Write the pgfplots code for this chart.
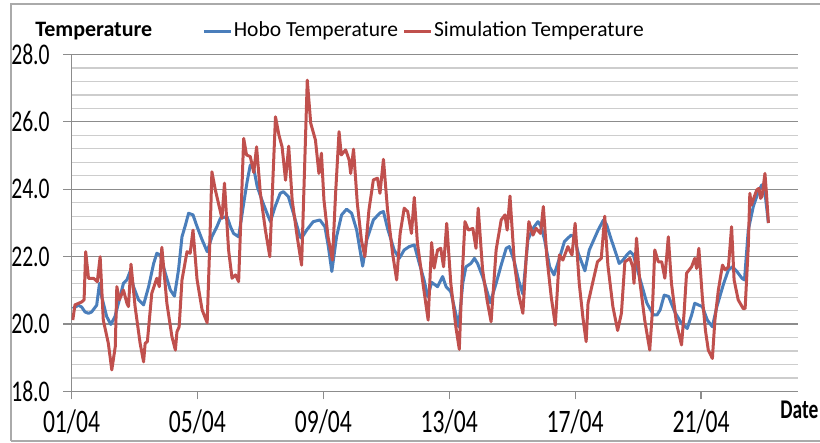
\documentclass[border=0pt]{standalone}
\usepackage{fontspec}
\setmainfont{Carlito}
\newfontfamily\tickfont{Carlito}[FakeStretch=0.72]
\usepackage{pgfplots}
\pgfplotsset{compat=1.18}
\newlength{\px}\setlength{\px}{0.5pt}
\definecolor{hobo}{RGB}{74,126,187}
\definecolor{sim}{RGB}{192,80,77}
\definecolor{majgrid}{RGB}{140,140,140}
\definecolor{mingrid}{RGB}{205,205,205}
\definecolor{framec}{RGB}{170,170,170}

\pgfplotstableread{
d t
0.04 20.46
0.22 20.56
0.32 20.51
0.43 20.36
0.54 20.32
0.64 20.36
0.80 20.56
0.89 21.21
0.96 20.81
1.12 20.22
1.25 19.99
1.38 20.22
1.52 20.72
1.65 21.21
1.76 21.31
1.86 21.56
1.97 21.11
2.13 20.72
2.29 20.57
2.45 21.11
2.61 21.80
2.71 22.10
2.82 22.05
2.98 21.51
3.14 21.01
3.27 20.83
3.40 21.61
3.51 22.59
3.62 22.94
3.72 23.29
3.86 23.24
3.99 22.89
4.15 22.50
4.31 22.15
4.46 22.59
4.62 22.89
4.73 23.14
4.94 23.19
5.05 22.89
5.15 22.69
5.31 22.59
5.47 23.58
5.58 24.23
5.68 24.72
5.79 24.62
5.90 24.08
6.05 23.68
6.21 23.29
6.32 23.04
6.47 23.49
6.63 23.88
6.73 23.93
6.89 23.78
7.05 23.29
7.26 22.59
7.31 22.55
7.47 22.79
7.68 23.04
7.89 23.09
8.05 22.89
8.16 22.30
8.27 21.56
8.42 22.59
8.58 23.24
8.74 23.41
8.90 23.29
9.06 22.79
9.25 21.72
9.38 22.50
9.59 23.09
9.80 23.30
9.91 23.34
10.04 22.84
10.25 22.20
10.41 21.95
10.57 22.20
10.73 22.30
10.89 22.35
11.05 21.80
11.20 21.31
11.32 20.81
11.44 21.24
11.63 21.11
11.79 21.41
11.90 21.11
12.05 20.96
12.18 20.42
12.30 19.92
12.43 21.21
12.53 21.70
12.69 21.80
12.80 21.95
12.90 21.80
13.06 21.41
13.22 20.91
13.30 20.63
13.49 21.21
13.65 21.75
13.81 22.25
13.91 22.30
14.07 21.85
14.20 21.31
14.34 20.89
14.50 22.50
14.66 22.84
14.82 23.04
14.92 22.89
15.03 22.50
15.19 21.70
15.33 21.46
15.50 21.95
15.66 22.45
15.87 22.64
15.97 22.59
16.10 22.10
16.31 21.58
16.45 22.20
16.73 22.79
16.90 23.09
17.00 22.95
17.15 22.50
17.26 22.20
17.40 21.80
17.52 21.90
17.64 22.05
17.75 22.15
17.85 22.05
18.07 21.31
18.28 20.62
18.49 20.27
18.60 20.27
18.70 20.42
18.83 20.86
18.97 20.82
19.16 20.37
19.38 20.02
19.56 19.87
19.70 20.27
19.80 20.62
19.91 20.57
20.04 20.52
20.20 20.12
20.36 19.92
20.50 20.51
20.72 21.21
20.87 21.61
21.00 21.70
21.14 21.56
21.30 21.36
21.38 21.31
21.50 22.79
21.66 23.49
21.82 23.93
21.93 24.13
22.03 23.90
22.14 23.00
}\hobo

\pgfplotstableread{
d t
0.04 20.12
0.11 20.57
0.33 20.66
0.40 20.72
0.45 22.15
0.54 21.36
0.70 21.36
0.82 21.26
0.91 22.00
1.01 20.12
1.17 19.43
1.28 18.64
1.39 19.33
1.44 21.11
1.52 20.72
1.65 21.01
1.76 20.62
1.81 20.52
1.89 21.78
2.02 20.52
2.18 19.43
2.29 18.88
2.34 19.43
2.41 19.48
2.55 20.91
2.71 21.36
2.79 21.11
2.87 22.28
3.03 20.62
3.19 19.63
3.30 19.23
3.35 19.77
3.42 19.92
3.51 21.31
3.67 22.15
3.77 22.10
3.86 22.79
3.99 21.31
4.15 20.42
4.31 20.04
4.39 22.30
4.46 24.52
4.57 23.98
4.73 23.34
4.78 23.14
4.86 24.18
4.99 22.20
5.10 21.36
5.21 21.46
5.31 21.26
5.47 25.51
5.56 25.02
5.68 24.97
5.79 24.50
5.88 25.26
6.00 23.88
6.16 22.79
6.30 22.00
6.38 23.88
6.48 26.15
6.59 25.61
6.69 25.26
6.80 24.27
6.90 25.28
7.01 23.68
7.17 22.59
7.31 21.75
7.38 23.88
7.49 27.24
7.60 25.96
7.75 25.46
7.86 24.47
7.94 25.07
8.02 23.68
8.15 22.59
8.29 21.90
8.39 23.88
8.50 25.71
8.57 25.02
8.71 25.17
8.82 24.87
8.87 24.47
8.96 25.19
9.08 23.58
9.21 22.49
9.32 22.00
9.45 23.39
9.59 24.28
9.72 24.33
9.80 23.88
9.91 24.89
10.04 23.39
10.20 22.10
10.33 21.31
10.44 22.69
10.57 23.44
10.68 23.34
10.80 22.69
10.89 23.76
10.99 22.40
11.18 21.11
11.33 20.12
11.44 22.42
11.52 21.66
11.63 22.20
11.73 22.25
11.82 21.70
11.92 22.99
12.05 21.21
12.21 19.92
12.32 19.25
12.40 21.21
12.50 23.04
12.61 22.79
12.75 22.84
12.85 22.25
12.92 23.44
13.06 21.61
13.20 20.72
13.33 20.07
13.49 22.20
13.65 23.09
13.77 23.24
13.84 22.79
13.93 23.80
14.07 21.80
14.20 20.91
14.34 20.32
14.44 21.90
14.53 23.04
14.66 22.64
14.76 22.84
14.90 22.69
14.99 23.49
15.10 22.00
15.24 20.81
15.37 19.97
15.50 22.05
15.61 21.90
15.77 22.30
15.90 22.05
16.00 22.99
16.13 21.21
16.25 20.17
16.35 19.48
16.41 20.62
16.57 21.28
16.71 21.85
16.83 21.95
16.94 23.20
17.04 21.75
17.20 20.51
17.35 19.81
17.47 20.32
17.58 21.85
17.74 21.95
17.83 21.70
17.87 21.21
17.95 22.55
18.05 21.31
18.21 20.12
18.37 19.23
18.45 20.32
18.53 22.20
18.64 21.85
18.75 21.85
18.85 21.36
18.96 22.59
19.06 21.21
19.22 20.02
19.38 19.38
19.46 20.32
19.54 21.51
19.70 21.70
19.80 21.95
19.86 21.65
19.93 22.25
20.04 20.81
20.14 19.81
20.23 19.23
20.36 18.98
20.44 20.12
20.55 21.01
20.68 21.75
20.77 21.61
20.87 21.70
20.97 22.89
21.05 21.31
21.18 20.72
21.34 20.46
21.40 20.46
21.50 22.30
21.55 23.88
21.60 23.53
21.66 23.70
21.77 23.98
21.84 24.03
21.89 23.73
21.94 23.80
22.03 24.47
22.08 23.85
22.14 23.00
}\sim

\begin{document}
\begin{tikzpicture}[x=\px,y=\px]
\draw[framec, line width=0.8pt] (11,-441) -- (11,-4) -- (830,-4);
\draw[framec, line width=0.8pt] (11,-441) -- (830,-441);
\begin{axis}[
  at={(71.5\px,-391.5\px)}, anchor=south west,
  scale only axis, width=726.5\px, height=337\px,
  xmin=0, xmax=23.08, ymin=18, ymax=28,
  xtick={0,4,8,12,16,20},
  xticklabels={01/04,05/04,09/04,13/04,17/04,21/04},
  ytick={18,20,...,28}, minor y tick num=4,
  ymajorgrids, yminorgrids,
  major grid style={majgrid, line width=0.6pt},
  minor grid style={mingrid, line width=0.6pt},
  axis x line*=bottom, axis y line*=left,
  axis line style={majgrid, line width=0.6pt},
  tick align=outside, major tick length=8\px, minor tick length=0pt,
  tick style={majgrid, line width=0.6pt},
  /pgf/number format/.cd, fixed, fixed zerofill, precision=1, assume math mode=true,
  /pgfplots/.cd,
  yticklabel style={font=\tickfont\fontsize{15}{18}\selectfont, anchor=east, inner sep=0pt, xshift=-13.5\px},
  xticklabel style={font=\tickfont\fontsize{16.4}{19}\selectfont, anchor=north, inner sep=0pt, yshift=-10\px},
  legend style={at={(0.1795,1.0697)}, anchor=west, draw=none, fill=none,
    inner sep=0pt, legend columns=2, font=\fontsize{10.75}{13}\selectfont,
    /tikz/every even column/.append style={column sep=3\px},
    nodes={inner sep=1.5\px}},
  legend image code/.code={\draw[#1] (0pt,0pt) -- (27\px,0pt);},
]
\addplot[hobo, line width=1.5pt, line join=round] table[x=d,y=t] {\hobo};
\addlegendentry{Hobo Temperature}
\addplot[sim, line width=1.5pt, line join=round] table[x=d,y=t] {\sim};
\addlegendentry{Simulation Temperature}
\end{axis}
\node[font=\bfseries\fontsize{11}{13}\selectfont, anchor=west, inner sep=0pt] at (35,-31) {Temperature};
\node[font=\tickfont\bfseries\fontsize{13.5}{16}\selectfont, anchor=west, inner sep=0pt] at (780,-410) {Date};
\pgfresetboundingbox
\path[use as bounding box] (0,0) rectangle (820,-443);
\end{tikzpicture}
\end{document}
